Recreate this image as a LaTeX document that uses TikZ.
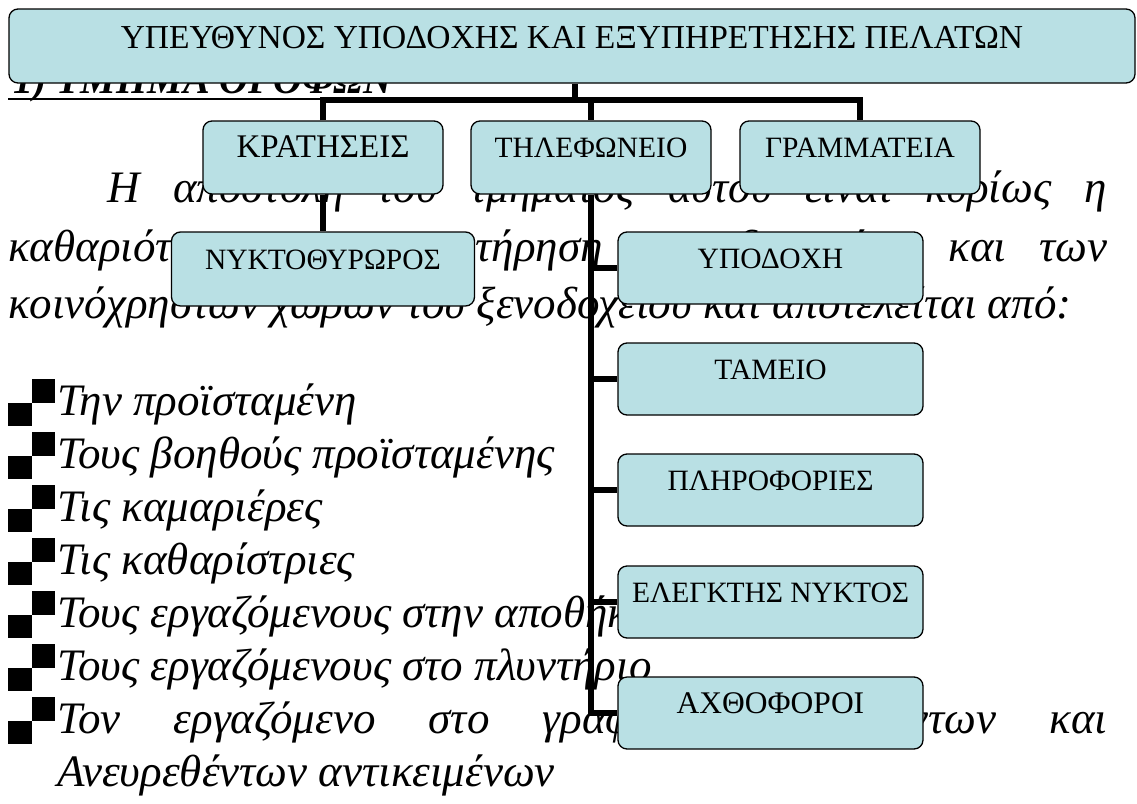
\documentclass[tikz,border=0pt]{standalone}
\usepackage{fontspec}
\setmainfont{Liberation Serif}
\definecolor{boxfill}{HTML}{B9E0E4}
\pgfdeclarelayer{bg}
\pgfdeclarelayer{mid}
\pgfsetlayers{bg,mid,main}
\newcommand{\bodyfnt}{\fontsize{45}{52}\selectfont\itshape}
\newcommand{\boxfnt}{\fontsize{29.5}{34}\selectfont}
\tikzset{
  orgbox/.style={draw=black, line width=1.3pt, fill=boxfill, rounded corners=9pt,
    inner xsep=0pt, inner ysep=0pt, text height=36.5pt, text depth=36.5pt,
    minimum width=240pt, font=\boxfnt, align=center},
  childbox/.style={orgbox, minimum width=305pt, text height=36pt, text depth=36pt},
  conn/.style={draw=black, line width=6pt, line join=miter},
  bodyline/.style={anchor=base west, inner sep=0pt, font=\bodyfnt},
  sqr/.style={fill=black}
}
\begin{document}
\begin{tikzpicture}[x=1pt,y=-1pt]
\useasboundingbox (0,0) rectangle (1137,803);
\begin{pgfonlayer}{bg}
\fill[white] (0,0) rectangle (1137,803);
% heading
\node[anchor=base west, inner sep=0pt, font=\fontsize{40}{48}\selectfont\bfseries\itshape] (head) at (13,93) {1) ΤΜΗΜΑ ΟΡΟΦΩΝ};
\draw[line width=2.5pt] (8,99) -- (410,99);
% paragraph
\node[bodyline] (p1) at (107,202) {\makebox[1000pt][s]{Η αποστολή του τμήματος αυτού είναι κυρίως η}};
\node[bodyline] (p2) at (8,261) {\makebox[1099pt][s]{καθαριότητα και η συντήρηση των δωματίων και των}};
\node[bodyline] (p3) at (8,318) {κοινόχρηστων χώρων του ξενοδοχείου και αποτελείται από:};
% list
\foreach \b/\t [count=\i] in {415/Την προϊσταμένη, 468/Τους βοηθούς προϊσταμένης, 521/Τις καμαριέρες, 574/Τις καθαρίστριες, 627/Τους εργαζόμενους στην αποθήκη, 680/Τους εργαζόμενους στο πλυντήριο}{
  \fill[sqr] (32,\b-36) rectangle (55,\b-12);
  \fill[sqr] (8,\b-12) rectangle (32,\b+11);
  \node[bodyline] (li\i) at (57,\b) {\t};
}
\fill[sqr] (32,697) rectangle (55,721);
\fill[sqr] (8,721) rectangle (32,744);
\node[bodyline] (li7) at (57,733) {\makebox[1050pt][s]{Τον εργαζόμενο στο γραφείο Απολεσθέντων και}};
\node[bodyline] (li7b) at (57,786) {Ανευρεθέντων αντικειμένων};
\end{pgfonlayer}
% boxes
\node[orgbox, minimum width=1126pt, text height=39pt, text depth=35pt, font=\fontsize{33.5}{38}\selectfont] (top) at (572,46) {ΥΠΕΥΘΥΝΟΣ ΥΠΟΔΟΧΗΣ ΚΑΙ ΕΞΥΠΗΡΕΤΗΣΗΣ ΠΕΛΑΤΩΝ};
\node[orgbox, font=\fontsize{33}{38}\selectfont] (krat) at (323,157.5) {ΚΡΑΤΗΣΕΙΣ};
\node[orgbox] (tel) at (591,157.5) {ΤΗΛΕΦΩΝΕΙΟ};
\node[orgbox] (gram) at (860,157.5) {ΓΡΑΜΜΑΤΕΙΑ};
\node[childbox, minimum width=303pt, text height=37pt, text depth=37pt] (nyk) at (323,269) {ΝΥΚΤΟΘΥΡΩΡΟΣ};
\node[childbox] (ypo) at (770.5,268) {ΥΠΟΔΟΧΗ};
\node[childbox] (tam) at (770.5,379) {ΤΑΜΕΙΟ};
\node[childbox] (pli) at (770.5,490) {ΠΛΗΡΟΦΟΡΙΕΣ};
\node[childbox] (ele) at (770.5,602) {ΕΛΕΓΚΤΗΣ ΝΥΚΤΟΣ};
\node[childbox, font=\fontsize{31.5}{36}\selectfont] (ach) at (770.5,713) {ΑΧΘΟΦΟΡΟΙ};
\coordinate (topfoot) at ([xshift=3pt]top.south);
\coordinate (hub) at (topfoot |- 0,100);
\begin{pgfonlayer}{mid}
\draw[conn] (topfoot) -- (hub);
\draw[conn] (krat.north) |- (hub) -| (gram.north);
\draw[conn] (tel.north |- hub) -- (tel.north);
\draw[conn] (krat.south) -- (nyk.north);
\draw[conn] (tel.south) |- (ach.west);
\foreach \n in {ypo,tam,pli,ele}{
  \draw[conn] (tel.south |- \n.west) -- (\n.west);
}
\end{pgfonlayer}
\end{tikzpicture}
\end{document}
